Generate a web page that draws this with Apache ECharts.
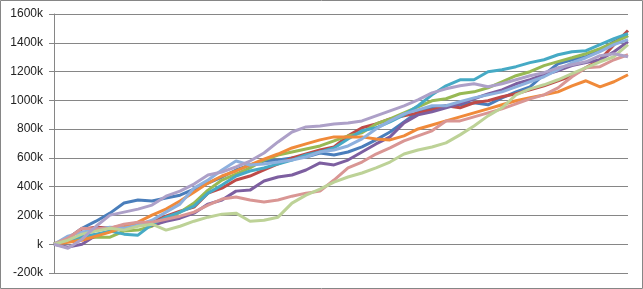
<!DOCTYPE html>
<html>
<head>
<meta charset="utf-8">
<script src="https://cdn.jsdelivr.net/npm/echarts@6/dist/echarts.min.js"></script>
<style>
html,body{margin:0;padding:0;background:#fff;}
#c{width:643px;height:289px;}
</style>
</head>
<body>
<div id="c"></div>
<script>
// step index (42 samples across the run)
var steps = [];
for (var i = 0; i < 42; i++) steps.push(i);

// y tick labels (k = thousands)
var yTicks = [-200, 0, 200, 400, 600, 800, 1000, 1200, 1400, 1600];

// series values in thousands
var blue = [0,42,111,160,216,286,307,300,321,341,383,425,467,516,551,578,585,599,606,634,620,641,676,725,780,850,920,948,962,969,983,969,1017,1059,1094,1178,1254,1282,1303,1352,1408,1450];
var red = [0,42,105,118,112,132,139,160,195,230,258,355,390,446,474,516,558,599,627,655,676,753,809,836,871,892,913,934,962,948,983,997,1025,1046,1073,1101,1136,1171,1227,1282,1387,1485];
var green = [0,21,42,49,49,91,98,125,167,223,286,376,446,488,530,585,620,641,662,683,718,753,774,836,871,913,955,997,1011,1046,1059,1087,1129,1171,1199,1241,1269,1296,1324,1359,1401,1450];
var purple = [0,-20,0,63,91,125,146,132,160,181,216,279,307,369,376,439,467,481,516,565,551,585,641,697,746,843,899,920,948,976,1011,1045,1073,1115,1143,1178,1206,1241,1262,1282,1338,1408];
var teal = [0,28,56,70,91,70,63,139,188,223,265,355,411,474,509,530,558,585,620,641,669,732,788,809,850,899,962,1038,1101,1143,1143,1199,1213,1234,1262,1282,1317,1338,1345,1387,1429,1464];
var orange = [0,14,28,56,84,118,153,202,244,300,362,425,474,509,551,592,627,669,697,725,746,746,746,732,725,753,801,829,857,885,913,941,969,997,1018,1038,1059,1101,1136,1094,1129,1178];
var lightBlue = [0,56,84,105,118,112,132,167,223,279,390,446,516,578,551,558,571,585,606,641,655,683,732,801,857,906,934,962,962,990,1017,1038,1059,1094,1129,1164,1213,1261,1296,1338,1387,1422];
var pink = [0,42,111,105,111,139,153,153,174,195,223,272,314,328,307,293,307,334,355,369,446,530,571,627,669,718,753,788,857,857,885,913,941,976,1010,1038,1087,1164,1227,1234,1282,1317];
var lightGreen = [0,28,70,91,111,98,125,139,98,125,160,188,209,216,160,167,188,286,341,383,432,467,495,530,571,627,655,676,704,760,822,892,948,1038,1080,1108,1143,1185,1227,1268,1303,1387];
var lavender = [0,-28,35,125,202,223,244,272,334,369,418,481,502,537,578,634,711,780,815,822,836,843,857,892,927,962,1003,1052,1080,1101,1115,1094,1115,1143,1171,1192,1226,1247,1268,1310,1324,1303];

var seriesList = [
  {name:'S1', data: blue, color:'#4A7EBB'},
  {name:'S2', data: red, color:'#BE4B48'},
  {name:'S3', data: green, color:'#98B954'},
  {name:'S4', data: purple, color:'#7D5FA0'},
  {name:'S5', data: teal, color:'#46AAC5'},
  {name:'S6', data: orange, color:'#F08A3A'},
  {name:'S7', data: lightBlue, color:'#8DB0DE'},
  {name:'S8', data: pink, color:'#D99694'},
  {name:'S9', data: lightGreen, color:'#BDD297'},
  {name:'S10', data: lavender, color:'#ADA0C8'}
];

var chart = echarts.init(document.getElementById('c'), null, {renderer:'canvas'});
chart.setOption({
  animation: false,
  backgroundColor: '#fff',
  graphic: [{
    type: 'rect',
    shape: {x: 0.5, y: 0.5, width: 642, height: 288},
    style: {fill: 'none', stroke: '#868686', lineWidth: 1},
    silent: true
  }],
  grid: {left: 54, right: 15, top: 14, bottom: 16, containLabel: false},
  xAxis: {
    type: 'category',
    data: steps,
    boundaryGap: false,
    axisLine: {show: false},
    axisTick: {show: false},
    axisLabel: {show: false},
    splitLine: {show: false}
  },
  yAxis: {
    type: 'value',
    min: yTicks[0],
    max: yTicks[yTicks.length - 1],
    interval: 200,
    axisLine: {show: true, lineStyle: {color: '#868686', width: 1}},
    axisTick: {show: true, length: 5, lineStyle: {color: '#868686'}},
    splitLine: {show: true, lineStyle: {color: '#868686', width: 1}},
    axisLabel: {
      margin: 11,
      color: '#222',
      fontFamily: 'Liberation Sans',
      fontSize: 12,
      formatter: function (v) { return v === 0 ? 'k' : v + 'k'; }
    }
  },
  series: seriesList.map(function (s) {
    return {
      name: s.name,
      type: 'line',
      data: s.data,
      showSymbol: false,
      symbol: 'none',
      smooth: false,
      lineStyle: {width: 3, color: s.color},
      itemStyle: {color: s.color}
    };
  })
});
</script>
</body>
</html>
